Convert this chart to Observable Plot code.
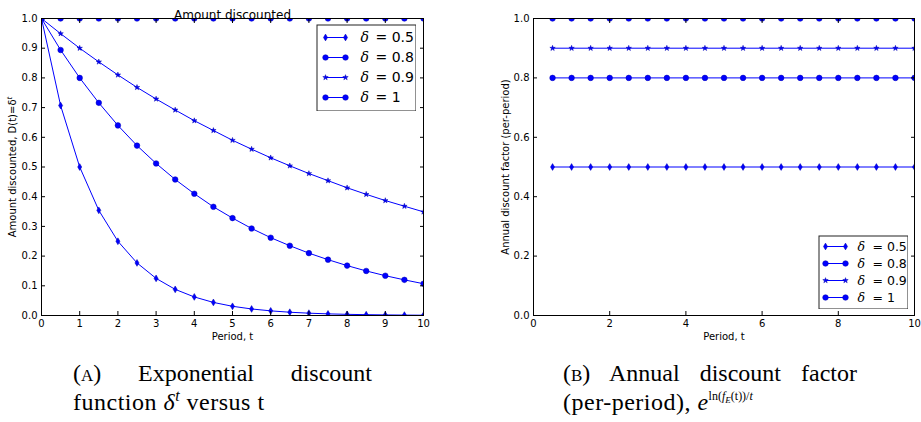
<!DOCTYPE html>
<html><head><meta charset="utf-8">
<script src="https://cdn.jsdelivr.net/npm/d3@7"></script>
<script src="https://cdn.jsdelivr.net/npm/@observablehq/plot@0.6"></script>
<style>
html,body{margin:0;padding:0;background:#fff}
body{position:relative;width:921px;height:422px;overflow:hidden;font-family:"DejaVu Sans",sans-serif}
.abs{position:absolute}
.cap{position:absolute;font-family:"Liberation Serif",serif;font-size:24px;line-height:29px;color:#000;white-space:nowrap}
.just{text-align:justify;text-align-last:justify;white-space:normal}
.l2{letter-spacing:0.5px}
.sc{font-variant:small-caps}
.sup{position:relative;top:-9px;font-size:16px;line-height:0}
.sup2{position:relative;top:-10px;font-size:12px;line-height:0;letter-spacing:0}
.sub{position:relative;top:3px;font-size:9px;line-height:0}
</style></head><body>
<div id="panelA" class="abs" style="left:0;top:0"></div>
<div id="panelB" class="abs" style="left:460px;top:0"></div>
<div id="legendA" class="abs" style="left:316px;top:24px"></div>
<div id="legendB" class="abs" style="left:818px;top:235px"></div>
<div class="cap" style="left:73px;top:359px;width:299px">
  <div class="just">(<span class="sc">a</span>) Exponential discount</div>
  <div class="l2">function <i>δ</i><span class="sup"><i>t</i></span> versus t</div>
</div>
<div class="cap" style="left:563px;top:359px;width:294px">
  <div class="just">(<span class="sc">b</span>) Annual discount factor</div>
  <div class="l2">(per-period), <i>e</i><span class="sup2">ln(<i>f</i><span class="sub"><i>E</i></span>(t))/<i>t</i></span></div>
</div>
<script>
// ---------- data ----------
const seriesValues = ["0.5", "0.8", "0.9", "1"];
const periodsA = [0, 0.5, 1, 1.5, 2, 2.5, 3, 3.5, 4, 4.5, 5, 5.5, 6, 6.5, 7, 7.5, 8, 8.5, 9, 9.5, 10];
const amountD05 = [1, 0.707, 0.5, 0.354, 0.25, 0.177, 0.125, 0.088, 0.0625, 0.044, 0.031, 0.022, 0.0156, 0.011, 0.0078, 0.0055, 0.0039, 0.0028, 0.002, 0.0014, 0.001];
const amountD08 = [1, 0.894, 0.8, 0.716, 0.64, 0.572, 0.512, 0.458, 0.41, 0.366, 0.328, 0.293, 0.262, 0.235, 0.21, 0.188, 0.168, 0.150, 0.134, 0.120, 0.107];
const amountD09 = [1, 0.949, 0.9, 0.854, 0.81, 0.768, 0.729, 0.692, 0.656, 0.623, 0.590, 0.560, 0.531, 0.504, 0.478, 0.454, 0.430, 0.408, 0.387, 0.368, 0.349];
const amountD10 = [1, 1, 1, 1, 1, 1, 1, 1, 1, 1, 1, 1, 1, 1, 1, 1, 1, 1, 1, 1, 1];
const periodsB = [0.5, 1, 1.5, 2, 2.5, 3, 3.5, 4, 4.5, 5, 5.5, 6, 6.5, 7, 7.5, 8, 8.5, 9, 9.5, 10];
const annualD05 = [0.5, 0.5, 0.5, 0.5, 0.5, 0.5, 0.5, 0.5, 0.5, 0.5, 0.5, 0.5, 0.5, 0.5, 0.5, 0.5, 0.5, 0.5, 0.5, 0.5];
const annualD08 = [0.8, 0.8, 0.8, 0.8, 0.8, 0.8, 0.8, 0.8, 0.8, 0.8, 0.8, 0.8, 0.8, 0.8, 0.8, 0.8, 0.8, 0.8, 0.8, 0.8];
const annualD09 = [0.9, 0.9, 0.9, 0.9, 0.9, 0.9, 0.9, 0.9, 0.9, 0.9, 0.9, 0.9, 0.9, 0.9, 0.9, 0.9, 0.9, 0.9, 0.9, 0.9];
const annualD10 = [1, 1, 1, 1, 1, 1, 1, 1, 1, 1, 1, 1, 1, 1, 1, 1, 1, 1, 1, 1];
const xTicksA = [0, 1, 2, 3, 4, 5, 6, 7, 8, 9, 10];
const yTicksA = [0, 0.1, 0.2, 0.3, 0.4, 0.5, 0.6, 0.7, 0.8, 0.9, 1.0];
const xTicksB = [0, 2, 4, 6, 8, 10];
const yTicksB = [0, 0.2, 0.4, 0.6, 0.8, 1.0];
const titleA = "Amount discounted";
const xLabel = "Period, t";
const yLabelA = "Amount discounted, D(t)=δ";
const yLabelB = "Annual discount factor (per-period)";

// ---------- styling ----------
const BLUE = "#0000ff";
const thinDiamond = {
  draw(ctx, size) {
    const r = Math.sqrt(size / Math.PI);
    const w = r * 0.6, h = r;
    ctx.moveTo(0, -h); ctx.lineTo(w, 0); ctx.lineTo(0, h); ctx.lineTo(-w, 0); ctx.closePath();
  }
};
const markerSymbols = [thinDiamond, "circle", "star", "circle"];
const markerRadii = [3.4, 2.8, 1.7, 2.8];

function makePanel(cfg) {
  const marks = [];
  cfg.values.forEach((vals, i) => {
    const rows = cfg.t.map((t, j) => ({t, v: vals[j]}));
    marks.push(Plot.line(rows, {x: "t", y: "v", stroke: BLUE, strokeWidth: 1, clip: true}));
    marks.push(Plot.dot(rows, {x: "t", y: "v", symbol: markerSymbols[i], r: markerRadii[i], fill: BLUE, stroke: "#0000b0", strokeWidth: 0.5, clip: true}));
  });
  marks.push(
    Plot.frame({stroke: "black", strokeWidth: 1}),
    Plot.axisX({anchor: "bottom", ticks: cfg.xTicks, tickSize: -4, tickPadding: 8, tickFormat: d3.format("d"),
      label: xLabel, labelAnchor: "center", labelArrow: "none", labelOffset: 24}),
    Plot.axisX({anchor: "top", ticks: cfg.xTicks, tickSize: -4, tickFormat: () => "", label: null}),
    Plot.axisY({anchor: "left", ticks: cfg.yTicks, tickSize: -4, tickPadding: 8, tickFormat: d3.format(".1f"),
      label: cfg.yLabel, labelAnchor: "center", labelArrow: "none", labelOffset: cfg.yLabelOffset}),
    Plot.axisY({anchor: "right", ticks: cfg.yTicks, tickSize: -4, tickFormat: () => "", label: null})
  );
  if (cfg.title) marks.push(Plot.text([cfg.title], {frameAnchor: "top", dy: -8, text: d => d, fontSize: 12}));
  return Plot.plot({
    width: cfg.width, height: 342,
    marginTop: 18, marginBottom: 27, marginLeft: cfg.marginLeft, marginRight: cfg.marginRight,
    style: {fontFamily: "DejaVu Sans", fontSize: "10px", color: "black", background: "transparent"},
    x: {domain: [0, 10]},
    y: {domain: [0, 1]},
    marks
  });
}

function makeLegend(cfg) {
  const marks = [Plot.frame({fill: "white", stroke: "#222", strokeWidth: 1, inset: 0.5})];
  const ends = [0, 1];
  seriesValues.forEach((v, i) => {
    marks.push(Plot.ruleY([v], {y: d => d, x1: 0, x2: 1, stroke: BLUE, strokeWidth: 1}));
    marks.push(Plot.dot(ends, {x: d => d, y: () => v, symbol: markerSymbols[i], r: markerRadii[i], fill: BLUE, stroke: "#0000b0", strokeWidth: 0.5}));
    marks.push(Plot.text([v], {x: 1, y: d => d, text: () => "δ", dx: cfg.dxDelta, textAnchor: "start",
      fontFamily: "DejaVu Serif", fontStyle: "italic", fontSize: cfg.fontSize}));
    marks.push(Plot.text([v], {x: 1, y: d => d, text: d => "= " + d, dx: cfg.dxText, textAnchor: "start",
      fontFamily: "DejaVu Sans", fontSize: cfg.fontSize}));
  });
  return Plot.plot({
    width: cfg.width, height: cfg.height, margin: 0, axis: null,
    style: {background: "transparent", color: "black"},
    x: {domain: [0, 1], range: cfg.sampleRange},
    y: {type: "point", domain: seriesValues, range: cfg.rowRange, padding: 0},
    marks
  });
}

const A = makePanel({t: periodsA, values: [amountD05, amountD08, amountD09, amountD10], xTicks: xTicksA, yTicks: yTicksA,
  yLabel: yLabelA, yLabelOffset: 33, width: 460, marginLeft: 41, marginRight: 37, title: titleA});
const B = makePanel({t: periodsB, values: [annualD05, annualD08, annualD09, annualD10], xTicks: xTicksB, yTicks: yTicksB,
  yLabel: yLabelB, yLabelOffset: 32, width: 461, marginLeft: 73, marginRight: 7});

// superscript t in the left y label
d3.select(A).selectAll("text").filter(function () { return this.textContent === yLabelA; }).each(function () {
  d3.select(this).append("tspan").attr("baseline-shift", "super").attr("font-size", 7).attr("font-style", "italic").text("t");
});

document.getElementById("panelA").appendChild(A);
document.getElementById("panelB").appendChild(B);
document.getElementById("legendA").appendChild(makeLegend({width: 100, height: 87, sampleRange: [9, 29], rowRange: [12, 74], dxDelta: 15, dxText: 30, fontSize: 14}));
document.getElementById("legendB").appendChild(makeLegend({width: 90, height: 74, sampleRange: [7, 27], rowRange: [10, 62], dxDelta: 12, dxText: 27, fontSize: 12.5}));
</script>
</body></html>
